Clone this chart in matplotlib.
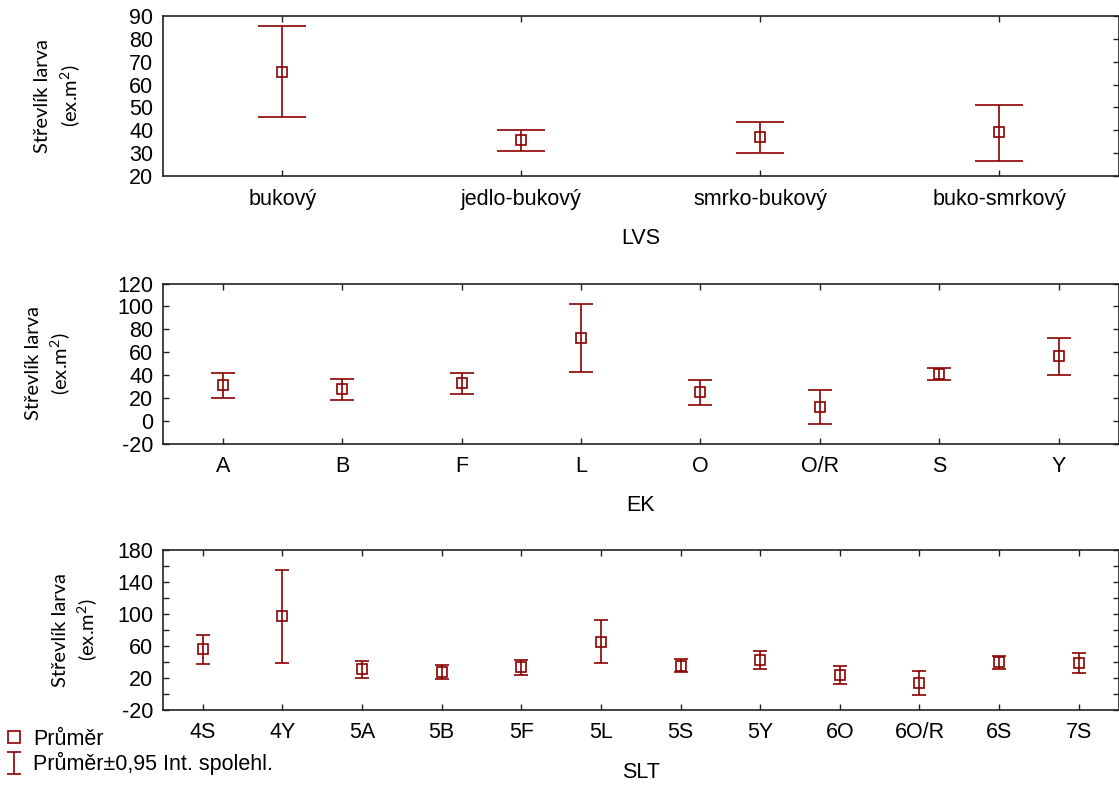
import numpy as np
import matplotlib.pyplot as plt
from matplotlib.lines import Line2D

plt.rcParams['font.family'] = ['Liberation Sans', 'DejaVu Sans']
plt.rcParams['mathtext.fontset'] = 'custom'
plt.rcParams['mathtext.rm'] = 'Lato'
plt.rcParams['axes.unicode_minus'] = False

# LVS
lvs_cat = ['bukový', 'jedlo-bukový', 'smrko-bukový', 'buko-smrkový']
lvs_mean = [65.7, 35.7, 36.9, 39.1]
lvs_low = [45.8, 31.1, 29.9, 26.7]
lvs_high = [85.8, 40.0, 43.8, 51.1]

# EK
ek_cat = ['A', 'B', 'F', 'L', 'O', 'O/R', 'S', 'Y']
ek_mean = [31.6, 27.5, 33.0, 72.7, 24.9, 12.0, 41.2, 56.4]
ek_low = [19.9, 18.2, 23.4, 42.4, 13.5, -2.5, 36.0, 39.8]
ek_high = [42.1, 36.5, 42.1, 102.2, 36.0, 26.6, 46.5, 72.4]

# SLT
slt_cat = ['4S', '4Y', '5A', '5B', '5F', '5L', '5S', '5Y', '6O', '6O/R', '6S', '7S']
slt_mean = [56.3, 97.1, 30.8, 27.9, 33.3, 65.4, 35.4, 42.1, 23.8, 13.3, 39.6, 38.8]
slt_low = [37.1, 38.3, 20.0, 18.3, 23.8, 38.8, 27.1, 31.3, 12.5, -1.6, 31.7, 26.3]
slt_high = [74.2, 154.6, 41.7, 36.3, 42.1, 92.5, 44.2, 53.3, 35.4, 28.8, 47.5, 51.3]

red = '#8b0000'
W, H = 1119, 796
fs = 15.5

fig = plt.figure(figsize=(W / 100, H / 100), dpi=100)

panels = [
    # cats, mean, low, high, xlabel, top px, ylim, yticks, minor, capsize, ylabel x
    (lvs_cat, lvs_mean, lvs_low, lvs_high, 'LVS', 16, (20, 90), np.arange(20, 91, 10), [], 17, -0.084),
    (ek_cat, ek_mean, ek_low, ek_high, 'EK', 283.5, (-20, 120), np.arange(-20, 121, 20), [], 8.6, -0.094),
    (slt_cat, slt_mean, slt_low, slt_high, 'SLT', 550, (-20, 180), [-20, 20, 60, 100, 140, 180],
     [0, 40, 80, 120, 160], 5, -0.066),
]

left, right = 163, 1118.5
containers = []
for i, (cats, mean, low, high, xl, top, ylim, yt, ymin, cap, ylx) in enumerate(panels):
    ax = fig.add_axes([left / W, 1 - (top + 160) / H, (right - left) / W, 160 / H])
    x = np.arange(len(cats))
    mean = np.array(mean)
    err = [mean - np.array(low), np.array(high) - mean]
    ec = ax.errorbar(x, mean, yerr=err, fmt='none', ecolor=red, elinewidth=1.2,
                     capsize=cap, capthick=1.2)
    containers.append(ec)
    ax.plot(x, mean, 's', ms=7.5, mfc='none', mec=red, mew=1.2)
    ax.set_xlim(-0.5, len(cats) - 0.5)
    ax.set_ylim(*ylim)
    ax.set_xticks(x)
    ax.set_xticklabels(cats, fontsize=fs)
    ax.set_yticks(yt)
    ax.set_yticks(ymin, minor=True)
    ax.tick_params(axis='y', labelsize=fs)
    ax.tick_params(which='both', direction='in', top=True, right=True, length=4,
                   width=1, color='#222222')
    ax.tick_params(axis='x', pad=9)
    ax.tick_params(axis='y', pad=7)
    if i == 0:
        ax.tick_params(axis='y', which='both', left=False)
    for s in ax.spines.values():
        s.set_linewidth(1.2)
        s.set_color('#222222')
    ax.set_xlabel(xl, fontsize=fs, labelpad=13)
    ax.set_ylabel('Střevlík larva\n(ex.m$^2$)', fontsize=14.5, family='Lato',
                  linespacing=1.35)
    ax.yaxis.set_label_coords(ylx, 0.5)

sq = Line2D([], [], marker='s', ls='none', mfc='none', mec=red, mew=1.2, ms=8)
fig.legend(handles=[sq, containers[2]], labels=['Průměr', 'Průměr±0,95 Int. spolehl.'],
           loc='upper left', bbox_to_anchor=(0.003, 1 - 729 / H), frameon=False,
           fontsize=fs, handlelength=1.0, handletextpad=0.4, borderpad=0,
           borderaxespad=0, labelspacing=0.1)

fig.savefig('out.png', dpi=100)
